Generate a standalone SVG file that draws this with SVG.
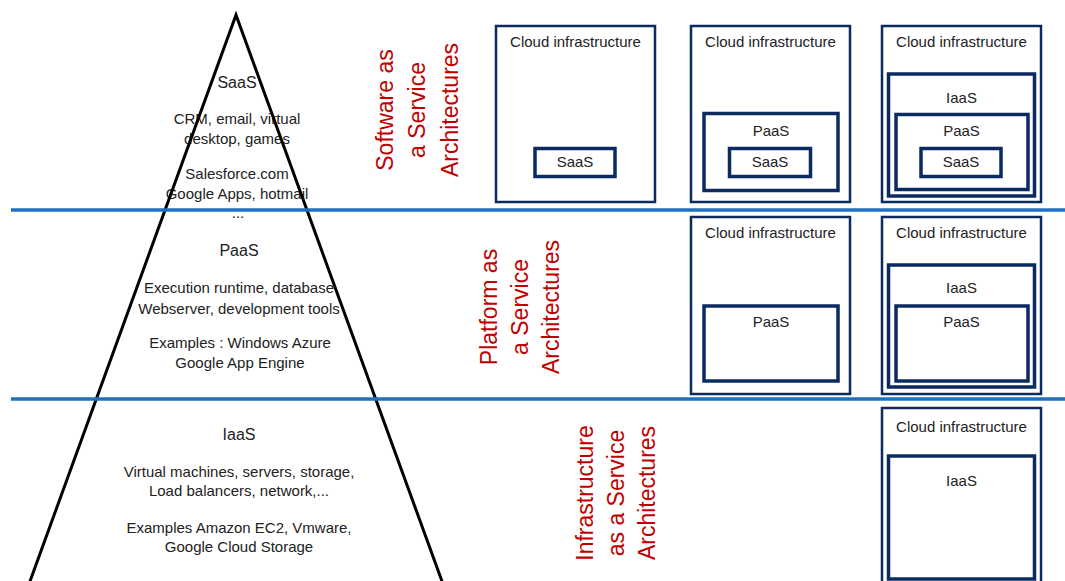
<svg xmlns="http://www.w3.org/2000/svg" width="1065" height="581" viewBox="0 0 1065 581">
<style>
.t{font-family:"Liberation Sans",Arial,sans-serif;font-size:15px;fill:#222;text-anchor:middle}
.h{font-size:16px}
.r{font-family:"Liberation Sans",Arial,sans-serif;font-size:23px;fill:#c00000;text-anchor:middle}
.ob{fill:none;stroke:#0b2a5f;stroke-width:2.5}
.ib{fill:none;stroke:#0b2a5f;stroke-width:3.5}
.div{stroke:#1f70c1;stroke-width:3.5}
</style>
<rect x="0" y="0" width="1065" height="581" fill="#fff"/>
<g id="pyramid-text">
<text class="t h" x="237" y="87.5">SaaS</text>
<text class="t" x="237" y="124">CRM, email, virtual</text>
<text class="t" x="237" y="143.5">desktop, games</text>
<text class="t" x="237" y="179">Salesforce.com</text>
<text class="t" x="237" y="198.5">Google Apps, hotmail</text>
<text class="t" x="238" y="218">...</text>
<text class="t h" x="239" y="256">PaaS</text>
<text class="t" x="239" y="292.5">Execution runtime, database</text>
<text class="t" x="239" y="313.5">Webserver,  development tools</text>
<text class="t" x="240" y="348">Examples : Windows Azure</text>
<text class="t" x="240" y="367.5">Google App Engine</text>
<text class="t h" x="239" y="440">IaaS</text>
<text class="t" x="239" y="477">Virtual machines, servers,  storage,</text>
<text class="t" x="239" y="496">Load balancers, network,...</text>
<text class="t" x="239" y="532.5">Examples Amazon EC2, Vmware,</text>
<text class="t" x="239" y="552">Google Cloud Storage</text>
</g>
<path id="pyramid" d="M29 584 L236 15 L443 584" fill="none" stroke="#000" stroke-width="3"/>
<g id="dividers">
<line class="div" x1="11" y1="210" x2="1065" y2="210"/>
<line class="div" x1="11" y1="399" x2="1065" y2="399"/>
</g>
<g id="connectors"/>
<g id="label-saas">
<text class="r" transform="translate(417,110) rotate(-90)"><tspan x="0" y="-24.5">Software as</tspan><tspan x="0" y="8">a Service</tspan><tspan x="0" y="40.5">Architectures</tspan></text>
</g>
<g id="label-paas">
<text class="r" transform="translate(520,307) rotate(-90)"><tspan x="0" y="-23">Platform as</tspan><tspan x="0" y="8">a Service</tspan><tspan x="0" y="39">Architectures</tspan></text>
</g>
<g id="label-iaas">
<text class="r" transform="translate(616,493) rotate(-90)"><tspan x="0" y="-23">Infrastructure</tspan><tspan x="0" y="8">as a Service</tspan><tspan x="0" y="39">Architectures</tspan></text>
</g>
<g id="saas-col1">
<rect class="ob" x="496" y="26" width="159" height="176"/>
<text class="t" x="575.5" y="47">Cloud infrastructure</text>
<rect class="ib" x="535" y="148.5" width="80" height="28"/>
<text class="t" x="575" y="167">SaaS</text>
</g>
<g id="saas-col2">
<rect class="ob" x="691" y="26" width="159" height="176"/>
<text class="t" x="770.5" y="47">Cloud infrastructure</text>
<rect class="ib" x="704" y="113.5" width="134" height="77"/>
<text class="t" x="771" y="136">PaaS</text>
<rect class="ib" x="729.5" y="148.5" width="81" height="28"/>
<text class="t" x="770" y="167">SaaS</text>
</g>
<g id="saas-col3">
<rect class="ob" x="882" y="26" width="159" height="176"/>
<text class="t" x="961.5" y="47">Cloud infrastructure</text>
<rect class="ib" x="888.5" y="74" width="146" height="122"/>
<text class="t" x="961.5" y="103">IaaS</text>
<rect class="ib" x="896" y="114.5" width="132" height="75"/>
<text class="t" x="961.5" y="136">PaaS</text>
<rect class="ib" x="921" y="148.5" width="80" height="28"/>
<text class="t" x="961" y="167">SaaS</text>
</g>
<g id="paas-col2">
<rect class="ob" x="691" y="217" width="159" height="177"/>
<text class="t" x="770.5" y="238">Cloud infrastructure</text>
<rect class="ib" x="704" y="306" width="134" height="75"/>
<text class="t" x="771" y="327">PaaS</text>
</g>
<g id="paas-col3">
<rect class="ob" x="882" y="217" width="159" height="177"/>
<text class="t" x="961.5" y="238">Cloud infrastructure</text>
<rect class="ib" x="888.5" y="265" width="146" height="122"/>
<text class="t" x="961.5" y="293">IaaS</text>
<rect class="ib" x="896" y="306" width="132" height="75"/>
<text class="t" x="961.5" y="327">PaaS</text>
</g>
<g id="iaas-col3">
<rect class="ob" x="882" y="408" width="159" height="200"/>
<text class="t" x="961.5" y="432">Cloud infrastructure</text>
<rect class="ib" x="888.5" y="456" width="146" height="123"/>
<text class="t" x="961.5" y="486">IaaS</text>
</g>
</svg>
